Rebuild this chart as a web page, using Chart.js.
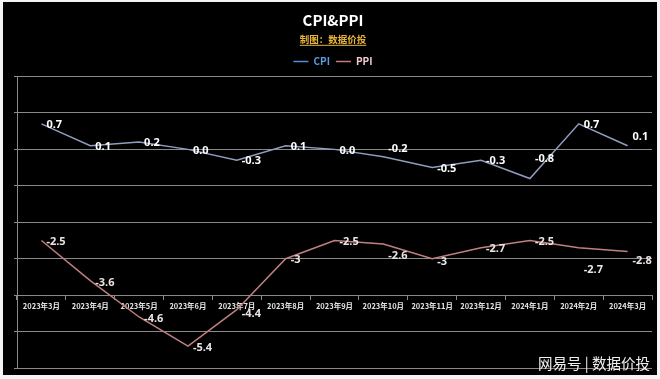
<!DOCTYPE html>
<html><head><meta charset="utf-8">
<script src="https://cdn.jsdelivr.net/npm/chart.js@4/dist/chart.umd.min.js"></script>
<style>
html,body{margin:0;padding:0;background:#f4f4f4;width:660px;height:379px;overflow:hidden;}
#bg{position:absolute;left:3px;top:2px;width:654px;height:373px;background:#000;}
#c{position:absolute;left:0;top:0;}
</style></head><body>
<div id="bg"></div>
<canvas id="c" width="660" height="379"></canvas>
<script>
// ---- data ----
const categories = ['2023年3月','2023年4月','2023年5月','2023年6月','2023年7月','2023年8月','2023年9月','2023年10月','2023年11月','2023年12月','2024年1月','2024年2月','2024年3月'];
const cpiValues = [0.7, 0.1, 0.2, 0.0, -0.3, 0.1, 0.0, -0.2, -0.5, -0.3, -0.8, 0.7, 0.1];
const ppiValues = [-2.5, -3.6, -4.6, -5.4, -4.4, -3.0, -2.5, -2.6, -3.0, -2.7, -2.5, -2.7, -2.8];
const yMin = -6, yMax = 2, yStep = 1;
const xAxisAt = -4;
const titleText = 'CPI&PPI';
const subtitleText = '制图：数据价投';
const watermarkText = '网易号 | 数据价投';

// label vertical nudges (pixels) so labels sit like the reference
const cpiLabelDy = [0, 0, 0, 0, 0, 0, 0, -9, 0, 0, -21, 0, -10];
const ppiLabelDy = [0, 1, 1, 1, 3, 0, 0, 11, 2, 0, 0, 21, 8];

const FONT = '"Noto Sans CJK SC", "Noto Sans", sans-serif';

const valueLabels = {
  id: 'valueLabels',
  afterDatasetsDraw(chart) {
    const ctx = chart.ctx;
    chart.data.datasets.forEach((ds, di) => {
      const cfg = ds.valueLabel;
      if (!cfg) return;
      const meta = chart.getDatasetMeta(di);
      ctx.save();
      ctx.font = cfg.font;
      ctx.fillStyle = cfg.color;
      ctx.textAlign = 'left';
      ctx.textBaseline = 'middle';
      meta.data.forEach((pt, i) => {
        const txt = cfg.format(ds.data[i]);
        ctx.fillText(txt, pt.x + 5, pt.y + 1 + cfg.dy[i]);
      });
      ctx.restore();
    });
  }
};

const decorations = {
  id: 'decorations',
  afterDraw(chart) {
    const ctx = chart.ctx;
    // underline under subtitle
    const sub = chart.boxes.find(b => b.options && b.options.text === subtitleText);
    if (sub) {
      ctx.save();
      ctx.font = 'bold 9.5px ' + FONT;
      const w = ctx.measureText(subtitleText).width;
      const cx = (sub.left + sub.right) / 2;
      const y = sub.top + 11.5;
      ctx.strokeStyle = '#e8b53a';
      ctx.lineWidth = 1;
      ctx.beginPath();
      ctx.moveTo(cx - w / 2, y + 0.5);
      ctx.lineTo(cx + w / 2, y + 0.5);
      ctx.stroke();
      ctx.restore();
    }
    // watermark
    ctx.save();
    ctx.font = '14.5px ' + FONT;
    ctx.textAlign = 'right';
    ctx.textBaseline = 'middle';
    ctx.fillStyle = 'rgba(255,255,255,0.95)';
    ctx.shadowColor = 'rgba(0,0,0,0.6)';
    ctx.shadowBlur = 2;
    ctx.fillText(watermarkText, 650, 363);
    ctx.restore();
  }
};

const legendColors = [
  {line: '#4f8fd6', text: '#5b9be0'},
  {line: '#c47a7a', text: '#f2cccc'}
];

new Chart(document.getElementById('c'), {
  type: 'line',
  data: {
    labels: categories,
    datasets: [
      {
        label: 'CPI',
        data: cpiValues,
        borderColor: '#8f9dbf',
        borderWidth: 1.5,
        pointRadius: 0,
        tension: 0,
        valueLabel: {format: v => v.toFixed(1), dy: cpiLabelDy, font: 'bold 11px "Noto Sans", sans-serif', color: '#ffffff'}
      },
      {
        label: 'PPI',
        data: ppiValues,
        borderColor: '#c08080',
        borderWidth: 1.5,
        pointRadius: 0,
        tension: 0,
        valueLabel: {format: v => String(v), dy: ppiLabelDy, font: 'bold 11px "Noto Sans", sans-serif', color: '#ece4e4'}
      }
    ]
  },
  options: {
    responsive: false,
    animation: false,
    layout: {padding: {left: 14, right: 8, top: 0, bottom: 11}},
    plugins: {
      tooltip: {enabled: false},
      title: {
        display: true, text: titleText, color: '#ffffff',
        font: {family: FONT, size: 15, weight: 'bold'},
        padding: {top: 11, bottom: 4.3}
      },
      subtitle: {
        display: true, text: subtitleText, color: '#e8b53a',
        font: {family: FONT, size: 9.5, weight: 'bold'},
        padding: {top: 0, bottom: 5.8}
      },
      legend: {
        display: true,
        labels: {
          usePointStyle: true,
          pointStyle: 'line',
          pointStyleWidth: 15,
          padding: 6,
          font: {family: FONT, size: 10, weight: 'bold'},
          generateLabels(chart) {
            return chart.data.datasets.map((ds, i) => ({
              text: ds.label,
              fillStyle: legendColors[i].line,
              strokeStyle: legendColors[i].line,
              fontColor: legendColors[i].text,
              lineWidth: 1.5,
              pointStyle: 'line',
              hidden: false,
              datasetIndex: i
            }));
          }
        }
      }
    },
    scales: {
      x: {
        position: {y: xAxisAt},
        offset: true,
        grid: {display: true, drawOnChartArea: false, drawTicks: true, tickLength: 4, color: '#8a8a8a', offset: true},
        border: {display: true, color: '#8a8a8a'},
        ticks: {color: '#e2e2e2', font: {family: FONT, size: 7.5, weight: 'bold'}, autoSkip: false, maxRotation: 0, padding: 3}
      },
      y: {
        min: yMin, max: yMax,
        grid: {color: '#8a8a8a', tickLength: 3, drawTicks: true},
        border: {display: true, color: '#8a8a8a'},
        ticks: {display: false, stepSize: yStep}
      }
    }
  },
  plugins: [valueLabels, decorations]
});
</script>
</body></html>
